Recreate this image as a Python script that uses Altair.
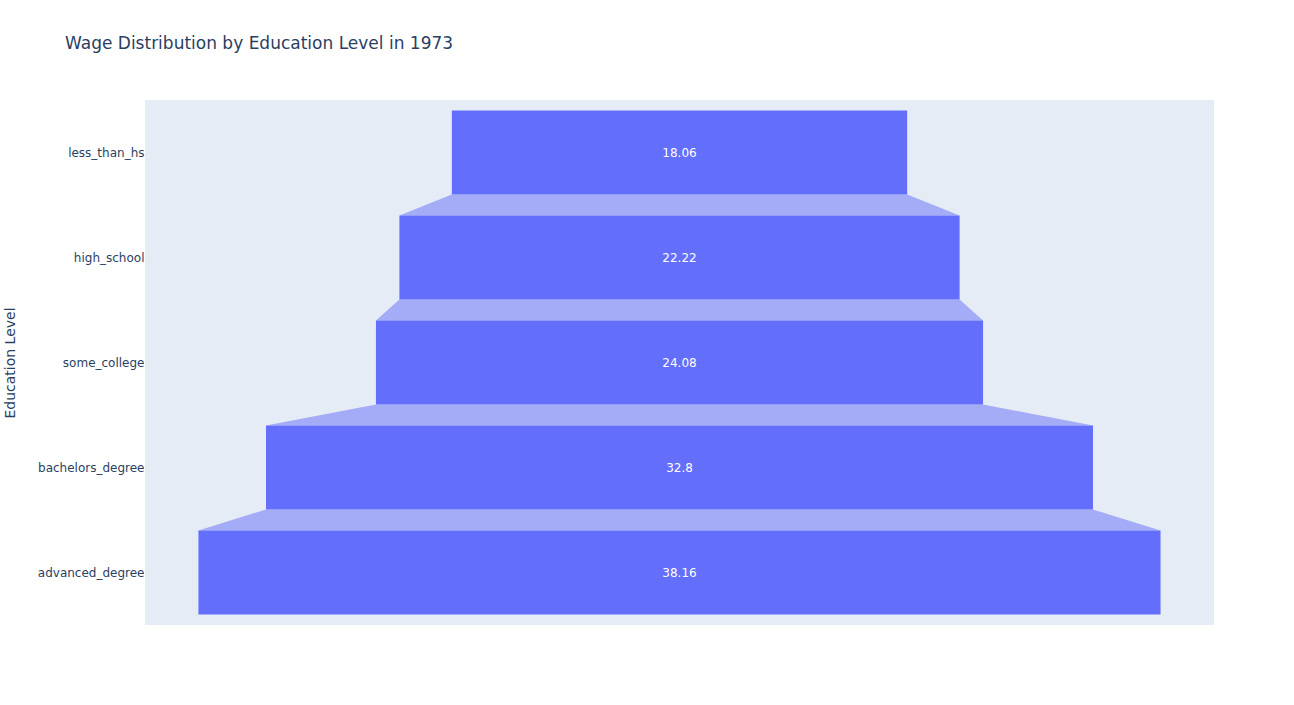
import altair as alt
import pandas as pd

categories = ["less_than_hs", "high_school", "some_college", "bachelors_degree", "advanced_degree"]
values = [18.06, 22.22, 24.08, 32.8, 38.16]
labels = ["18.06", "22.22", "24.08", "32.8", "38.16"]

half = 21.2
FONT = "DejaVu Sans"

bars = pd.DataFrame({
    "cat": categories,
    "idx": list(range(len(categories))),
    "value": values,
    "label": labels,
})
bars["y0"] = bars["idx"] + 0.1
bars["y1"] = bars["idx"] + 0.9
bars["yc"] = bars["idx"] + 0.5
bars["xl"] = -bars["value"] / 2
bars["xr"] = bars["value"] / 2

conn_rows = []
for i in range(len(categories) - 1):
    conn_rows.append({"c": i, "y": i + 0.9, "xl": -values[i] / 2, "xr": values[i] / 2})
    conn_rows.append({"c": i, "y": i + 1.1, "xl": -values[i + 1] / 2, "xr": values[i + 1] / 2})
conn = pd.DataFrame(conn_rows)

xscale = alt.Scale(domain=[-half, half], nice=False, zero=False)
yscale = alt.Scale(domain=[0, 5], reverse=True, nice=False, zero=False)

label_expr = " : ".join(
    [f"datum.value == {i + 0.5} ? '{c}'" for i, c in enumerate(categories)]
) + " : ''"

yaxis = alt.Axis(
    values=[i + 0.5 for i in range(len(categories))],
    labelExpr=label_expr,
    ticks=False, grid=False, domain=False,
    labelPadding=1, labelFontSize=12, labelColor="#2a3f5f", labelFont=FONT,
    title="Education Level", titleFontSize=14, titleColor="#2a3f5f", titleFont=FONT,
    titleFontWeight="normal", titleX=-135, titleY=262.5, titleAngle=-90,
    titleAlign="center", titleBaseline="middle",
)

connectors = alt.Chart(conn).mark_area(orient="horizontal", color="#a4abf7", opacity=1).encode(
    y=alt.Y("y:Q", scale=yscale, axis=yaxis),
    x=alt.X("xl:Q", scale=xscale, axis=None),
    x2="xr:Q",
    detail="c:N",
)

bar_layer = alt.Chart(bars).mark_rect(color="#636efa").encode(
    y=alt.Y("y0:Q", scale=yscale),
    y2="y1:Q",
    x=alt.X("xl:Q", scale=xscale),
    x2="xr:Q",
)

text_layer = alt.Chart(bars).mark_text(color="white", fontSize=12, font=FONT).encode(
    y=alt.Y("yc:Q", scale=yscale),
    x=alt.value(534.5),
    text="label:N",
)

chart = alt.layer(connectors, bar_layer, text_layer).properties(
    width=1069,
    height=525,
    title=alt.TitleParams(
        "Wage Distribution by Education Level in 1973",
        anchor="start", frame="group", dx=-80, offset=47, fontSize=17, font=FONT,
        fontWeight="normal", color="#2a3f5f",
    ),
    autosize=alt.AutoSizeParams(type="none"),
    padding={"left": 145, "top": 100, "right": 80, "bottom": 80},
).configure(
    background="white",
    view=alt.ViewConfig(fill="#e5ecf6", strokeWidth=0),
)

chart.save("out.html", embed_options={"renderer": "svg", "actions": False})
